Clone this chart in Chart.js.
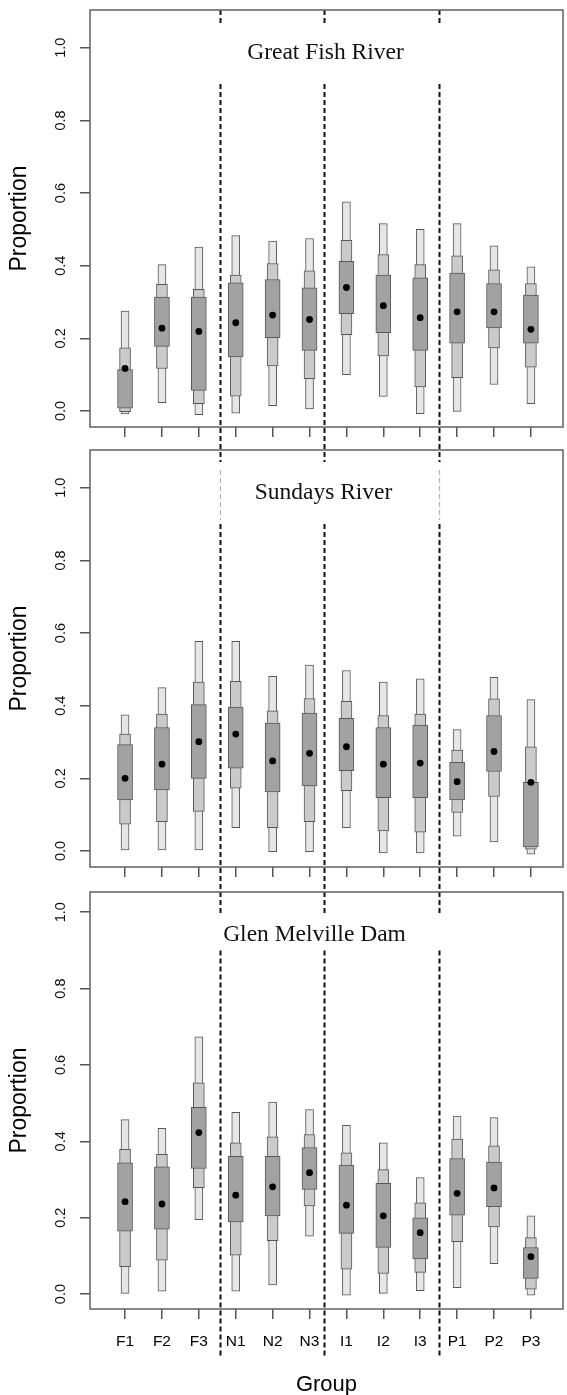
<!DOCTYPE html>
<html><head><meta charset="utf-8">
<script src="https://cdn.jsdelivr.net/npm/chart.js@4"></script>
<style>
html,body{margin:0;padding:0;background:#fff;}
#wrap{position:relative;width:567px;height:1395px;overflow:hidden;background:#fff;}
canvas{position:absolute;left:0;}
</style></head><body>
<div id="wrap">
<canvas id="c1" width="567" height="465" style="top:0px;width:567px;height:465px"></canvas>
<canvas id="c2" width="567" height="475" style="top:440px;width:567px;height:475px"></canvas>
<canvas id="c3" width="567" height="513" style="top:882px;width:567px;height:513px"></canvas>
</div>
<script>
const categories = ['F1','F2','F3','N1','N2','N3','I1','I2','I3','P1','P2','P3'];
const yTicks = [0, 0.2, 0.4, 0.6, 0.8, 1.0];
const dividers = [3.57, 6.39, 9.5];
const panelTitles = ['Great Fish River', 'Sundays River', 'Glen Melville Dam'];

// Great Fish River
const gfOuterLow  = [-0.008, 0.023, -0.010, -0.006, 0.015, 0.006, 0.100, 0.040, -0.007, -0.001, 0.073, 0.020];
const gfOuterHigh = [0.275, 0.403, 0.451, 0.483, 0.468, 0.475, 0.576, 0.516, 0.500, 0.516, 0.455, 0.397];
const gfMidLow    = [-0.002, 0.117, 0.020, 0.041, 0.124, 0.089, 0.210, 0.152, 0.066, 0.092, 0.174, 0.121];
const gfMidHigh   = [0.174, 0.349, 0.335, 0.374, 0.406, 0.386, 0.470, 0.431, 0.403, 0.427, 0.389, 0.351];
const gfInnerLow  = [0.008, 0.178, 0.057, 0.149, 0.202, 0.167, 0.268, 0.216, 0.167, 0.187, 0.229, 0.187];
const gfInnerHigh = [0.114, 0.314, 0.314, 0.353, 0.362, 0.339, 0.412, 0.374, 0.367, 0.380, 0.351, 0.319];
const gfMedian    = [0.117, 0.228, 0.219, 0.243, 0.264, 0.252, 0.340, 0.290, 0.257, 0.273, 0.273, 0.225];

// Sundays River
const srOuterLow  = [0.003, 0.003, 0.003, 0.064, -0.002, -0.002, 0.064, -0.005, -0.005, 0.041, 0.025, -0.009];
const srOuterHigh = [0.375, 0.450, 0.577, 0.577, 0.481, 0.512, 0.497, 0.465, 0.474, 0.334, 0.478, 0.417];
const srMidLow    = [0.074, 0.081, 0.109, 0.173, 0.064, 0.081, 0.166, 0.055, 0.052, 0.106, 0.150, 0.005];
const srMidHigh   = [0.322, 0.377, 0.465, 0.467, 0.386, 0.420, 0.412, 0.373, 0.377, 0.278, 0.419, 0.287];
const srInnerLow  = [0.141, 0.168, 0.200, 0.228, 0.163, 0.179, 0.221, 0.147, 0.147, 0.141, 0.219, 0.011];
const srInnerHigh = [0.293, 0.340, 0.403, 0.396, 0.352, 0.380, 0.365, 0.340, 0.347, 0.244, 0.373, 0.189];
const srMedian    = [0.200, 0.239, 0.301, 0.322, 0.248, 0.269, 0.287, 0.239, 0.242, 0.191, 0.274, 0.189];

// Glen Melville Dam
const gmOuterLow  = [0.000, 0.008, 0.195, 0.008, 0.024, 0.152, -0.003, 0.000, 0.009, 0.017, 0.080, -0.003];
const gmOuterHigh = [0.457, 0.434, 0.674, 0.476, 0.503, 0.483, 0.442, 0.396, 0.305, 0.466, 0.462, 0.205];
const gmMidLow    = [0.072, 0.089, 0.279, 0.102, 0.140, 0.231, 0.065, 0.054, 0.057, 0.137, 0.176, 0.013];
const gmMidHigh   = [0.379, 0.366, 0.553, 0.396, 0.412, 0.418, 0.370, 0.326, 0.239, 0.406, 0.388, 0.148];
const gmInnerLow  = [0.165, 0.170, 0.329, 0.189, 0.205, 0.274, 0.159, 0.122, 0.092, 0.207, 0.229, 0.041];
const gmInnerHigh = [0.344, 0.333, 0.489, 0.361, 0.361, 0.384, 0.338, 0.290, 0.200, 0.355, 0.346, 0.122];
const gmMedian    = [0.242, 0.236, 0.423, 0.259, 0.281, 0.318, 0.233, 0.205, 0.161, 0.264, 0.278, 0.098];

Chart.defaults.font.family = '"Liberation Sans", Arial, sans-serif';
Chart.defaults.color = '#000';

const decor = {
  id: 'decor',
  afterDatasetsDraw(chart, args, o) {
    const {ctx, chartArea: a, scales: {x, y}} = chart;
    ctx.save();
    ctx.setLineDash([5, 3]);
    dividers.forEach((d, k) => {
      const px = Math.round(x.getPixelForValue(d)) + 0.5;
      ctx.strokeStyle = '#111';
      ctx.lineWidth = 2;
      ctx.beginPath();
      ctx.moveTo(px, y.getPixelForValue(0.9));
      ctx.lineTo(px, o.lineEnd);
      ctx.stroke();
      if (o.topStub) {
        ctx.beginPath();
        ctx.moveTo(px, a.top);
        ctx.lineTo(px, a.top + 15);
        ctx.stroke();
      }
      if (o.lightStub && k !== 1) {
        ctx.strokeStyle = '#b5b5b5';
        ctx.lineWidth = 1.3;
        ctx.beginPath();
        ctx.moveTo(px, a.top + 20);
        ctx.lineTo(px, y.getPixelForValue(0.9) - 4);
        ctx.stroke();
      }
    });
    ctx.restore();
  },
  afterDraw(chart, args, o) {
    const {ctx, chartArea: a, scales: {y}} = chart;
    ctx.save();
    ctx.strokeStyle = '#606060';
    ctx.lineWidth = 1.5;
    ctx.strokeRect(a.left, a.top, a.right - a.left, a.bottom - a.top);
    ctx.fillStyle = '#111';
    ctx.font = '14.5px "Liberation Sans", Arial, sans-serif';
    ctx.textAlign = 'center';
    ctx.textBaseline = 'middle';
    y.ticks.forEach(t => {
      const py = y.getPixelForValue(t.value);
      ctx.save();
      ctx.translate(61, py);
      ctx.rotate(-Math.PI / 2);
      ctx.fillText(t.label, 0, 0);
      ctx.restore();
    });
    ctx.font = '23.5px "Liberation Serif", "Times New Roman", serif';
    ctx.fillText(o.title, (a.left + a.right) / 2 + o.titleDx, a.top + 43);
    ctx.restore();
  }
};

function makeChart(id, arrs, yMin, yMax, xHeight, showX, decorOpts) {
  const [oLo, oHi, mLo, mHi, iLo, iHi, med] = arrs;
  const barDs = (lo, hi, color, w, order) => ({
    type: 'bar',
    data: categories.map((c, i) => ({x: i + 1, y: [lo[i], hi[i]]})),
    backgroundColor: color,
    borderColor: '#585858',
    borderWidth: 1,
    borderSkipped: false,
    barThickness: w,
    grouped: false,
    order: order
  });
  const gridOpts = {display: true, drawOnChartArea: false, drawTicks: true, tickLength: 10, color: '#555', lineWidth: 1.5};
  return new Chart(document.getElementById(id), {
    type: 'bar',
    data: {
      datasets: [
        barDs(oLo, oHi, '#e6e6e6', 8, 4),
        barDs(mLo, mHi, '#cacaca', 11, 3),
        barDs(iLo, iHi, '#a2a2a2', 15, 2),
        {
          type: 'scatter',
          data: categories.map((c, i) => ({x: i + 1, y: med[i]})),
          backgroundColor: '#000',
          borderWidth: 0,
          pointRadius: 3.4,
          showLine: false,
          order: 1
        }
      ]
    },
    options: {
      responsive: false,
      animation: false,
      layout: {padding: {top: 10, right: 2, left: 0, bottom: 0}},
      plugins: {legend: {display: false}, tooltip: {enabled: false}, decor: decorOpts},
      scales: {
        x: {
          type: 'linear', min: 0.05, max: 12.87, offset: false,
          grid: Object.assign({offset: false}, gridOpts),
          border: {display: false},
          afterBuildTicks: s => { s.ticks = categories.map((c, i) => ({value: i + 1})); },
          afterFit: s => { s.height = xHeight; },
          ticks: {
            display: showX, autoSkip: false, maxRotation: 0, padding: 13,
            font: {size: 15.5}, color: '#000',
            callback: v => categories[v - 1]
          },
          title: {display: showX, text: 'Group', font: {size: 22, lineHeight: 0.9}, color: '#000', padding: {top: 0, bottom: 0}}
        },
        y: {
          type: 'linear', min: yMin, max: yMax,
          grid: gridOpts,
          border: {display: false},
          afterBuildTicks: s => { s.ticks = yTicks.map(v => ({value: v})); },
          afterFit: s => { s.width = 90; },
          ticks: {display: false, callback: v => v.toFixed(1)},
          title: {display: true, text: 'Proportion', font: {size: 23}, color: '#000', padding: {top: 6}}
        }
      }
    },
    plugins: [decor]
  });
}

makeChart('c1', [gfOuterLow, gfOuterHigh, gfMidLow, gfMidHigh, gfInnerLow, gfInnerHigh, gfMedian],
  -0.044, 1.104, 38, false, {title: panelTitles[0], titleDx: -1, topStub: true, lightStub: false, lineEnd: 462});
makeChart('c2', [srOuterLow, srOuterHigh, srMidLow, srMidHigh, srInnerLow, srInnerHigh, srMedian],
  -0.044, 1.104, 48, false, {title: panelTitles[1], titleDx: -3, topStub: false, lightStub: true, lineEnd: 475});
makeChart('c3', [gmOuterLow, gmOuterHigh, gmMidLow, gmMidHigh, gmInnerLow, gmInnerHigh, gmMedian],
  -0.039, 1.053, 86, true, {title: panelTitles[2], titleDx: -12, topStub: false, lightStub: false, lineEnd: 476});
</script>
</body></html>
